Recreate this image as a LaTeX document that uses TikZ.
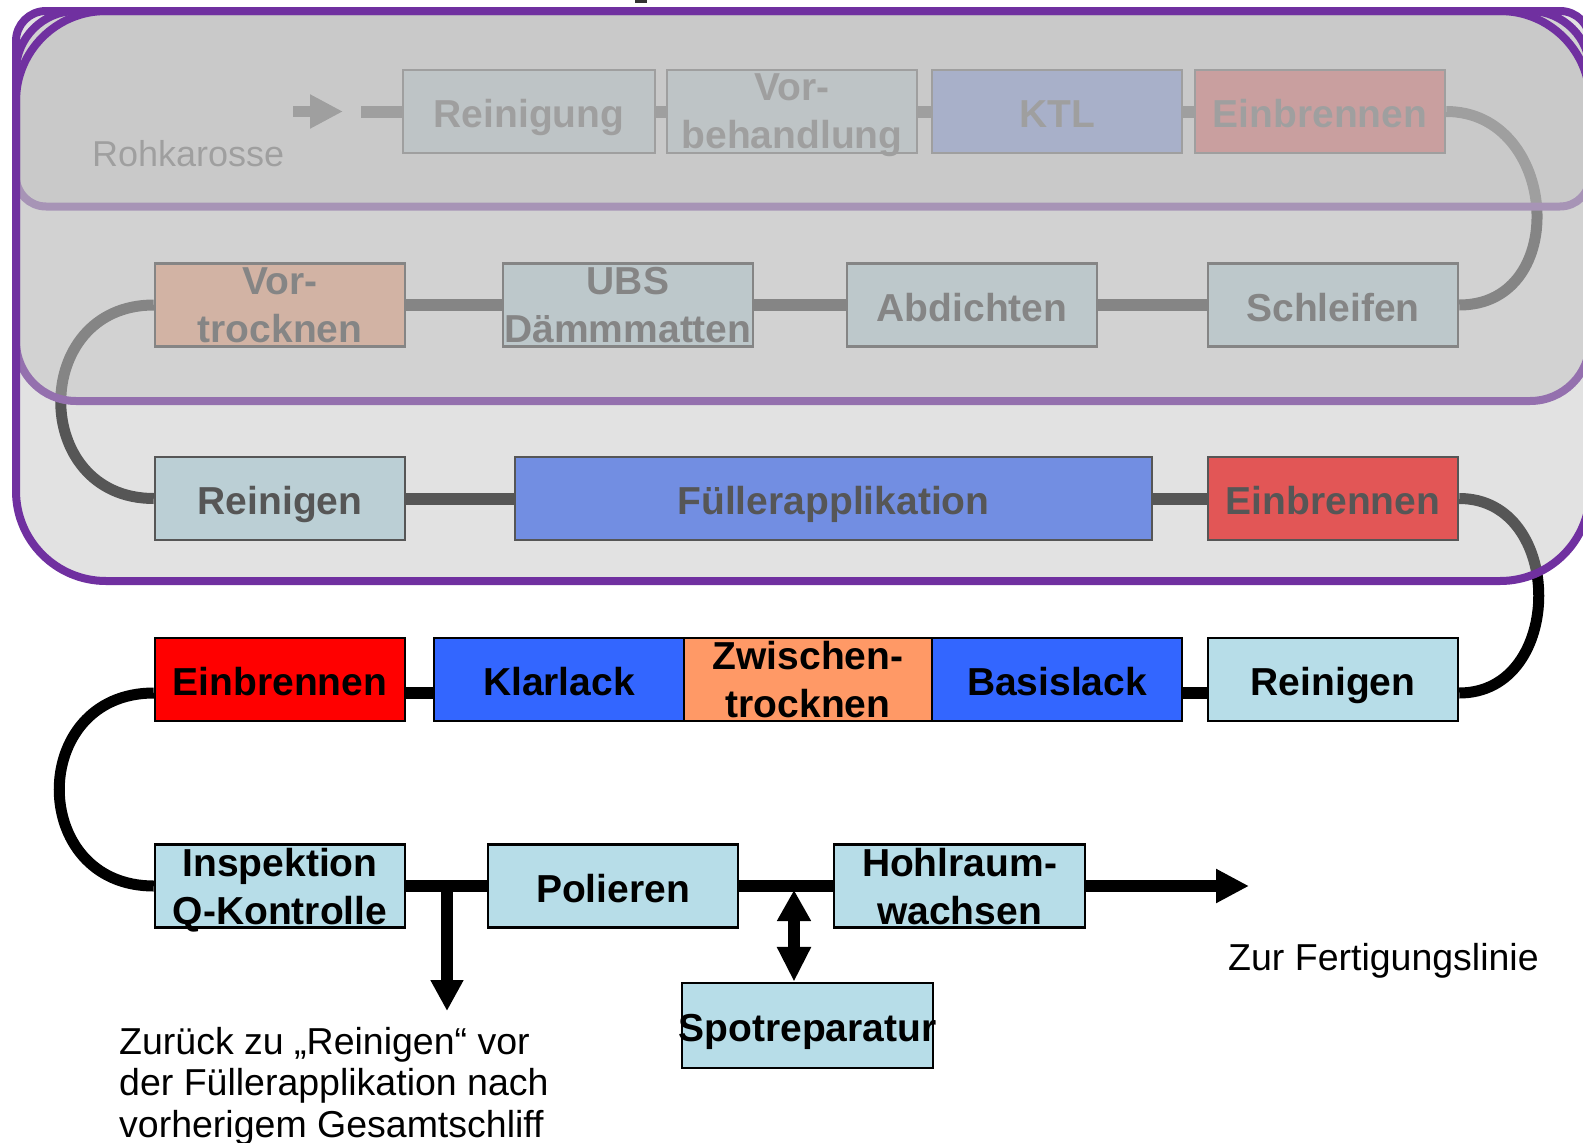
\documentclass[tikz,border=0pt]{standalone}
\usepackage{fontspec}
\setmainfont{Liberation Sans}
\usetikzlibrary{arrows.meta}
\definecolor{cyanl}{HTML}{B7DDE8}
\definecolor{blu}{HTML}{3366FF}
\definecolor{rd}{HTML}{FF0000}
\definecolor{org}{HTML}{FF9966}
\definecolor{purp}{HTML}{7030A0}
\definecolor{ovl}{HTML}{C0C0C0}
\newcommand{\bxfont}{\fontsize{39}{48}\selectfont\bfseries}
\newcommand{\txfont}{\fontsize{37.5}{41.5}\selectfont}
\newcommand{\rkfont}{\fontsize{36}{41.5}\selectfont}
\begin{document}
\begin{tikzpicture}[x=1pt,y=-1pt,
  bx/.style={draw=black,line width=2.5pt,minimum height=83pt,inner sep=0pt,font=\bxfont,align=center},
  one/.style={text height=32pt,text depth=0pt},
  two/.style={text depth=-6pt},
  con/.style={line width=12pt,black},
  cv/.style={line width=11pt,black},
  tipA/.style={-{Triangle[length=33pt,width=32pt]}},
  ovr/.style={fill=ovl,fill opacity=0.45,draw=purp,line width=8pt},
  lbl/.style={font=\txfont,inner sep=0pt}]
\fill[white] (0,0) rectangle (1583,1143);
\useasboundingbox (0,0) rectangle (1583,1143);
\clip (0,0) rectangle (1583,1143);
\fill[black!80] (635,0) rectangle (647,3);

% row 1
\node[bx,one,fill=cyanl,minimum width=252pt] (r1) at (529,111.5) {Reinigung};
\node[bx,two,fill=cyanl,minimum width=250pt,text depth=-10pt] (v1) at (792,111.5) {Vor-\\behandlung};
\node[bx,one,fill=blu,minimum width=250pt] (k1) at (1057,111.5) {KTL};
\node[bx,one,fill=rd,minimum width=250pt] (e1) at (1320,111.5) {Einbrennen};
\node[lbl,font=\rkfont,anchor=base west] (rk) at (92,166) {Rohkarosse};
\coordinate (a0) at (293,111.5);
\coordinate (a1) at (343,111.5);
\coordinate (l0) at (361,111.5);
\draw[cv,tipA] (a0) -- (a1);
\draw[con] (l0) -- (r1.west);
\draw[con] (r1) -- (v1);
\draw[con] (v1) -- (k1);
\draw[con] (k1) -- (e1);

% row 2
\node[bx,two,fill=org,minimum width=250pt] (vt) at (280,305) {Vor-\\trocknen};
\node[bx,two,fill=cyanl,minimum width=250pt] (ub) at (628,305) {UBS\\Dämmmatten};
\node[bx,one,fill=cyanl,minimum width=250pt] (ab) at (972,305) {Abdichten};
\node[bx,one,fill=cyanl,minimum width=250pt] (sc) at (1333,305) {Schleifen};
\draw[con] (vt) -- (ub);
\draw[con] (ub) -- (ab);
\draw[con] (ab) -- (sc);
\draw[cv] (e1.east) .. controls +(112,0) and +(112,0) .. (sc.east);

% row 3
\node[bx,one,fill=cyanl,minimum width=250pt] (r3) at (280,498.5) {Reinigen};
\node[bx,one,fill=blu,minimum width=637pt] (fa) at (833.5,498.5) {Füllerapplikation};
\node[bx,one,fill=rd,minimum width=250pt] (e3) at (1333,498.5) {Einbrennen};
\draw[con] (r3) -- (fa);
\draw[con] (fa) -- (e3);
\draw[cv] (vt.west) .. controls +(-124,0) and +(-124,0) .. (r3.west);

% row 4
\node[bx,one,fill=rd,minimum width=250pt] (e4) at (280,679.5) {Einbrennen};
\node[bx,one,fill=blu,minimum width=250pt] (kl) at (559,679.5) {Klarlack};
\node[bx,two,fill=org,minimum width=248pt] (zw) at (808,679.5) {Zwischen-\\trocknen};
\node[bx,one,fill=blu,minimum width=250pt] (bl) at (1057,679.5) {Basislack};
\node[bx,one,fill=cyanl,minimum width=250pt] (r4) at (1333,679.5) {Reinigen};
\draw[con] ([yshift=-13.5pt]e4.east) -- ([yshift=-13.5pt]kl.west);
\draw[con] ([yshift=-13.5pt]bl.east) -- ([yshift=-13.5pt]r4.west);
\draw[cv] (e3.east) .. controls +(106,0) and +(106,0) .. ([yshift=-13.5pt]r4.east);

% row 5
\node[bx,two,fill=cyanl,minimum width=250pt] (iq) at (280,886) {Inspektion\\Q-Kontrolle};
\node[bx,one,fill=cyanl,minimum width=250pt] (po) at (613,886) {Polieren};
\node[bx,two,fill=cyanl,minimum width=251pt] (hw) at (959.5,886) {Hohlraum-\\wachsen};
\node[bx,one,fill=cyanl,minimum width=251pt,minimum height=85pt,inner xsep=-5pt] (sp) at (807.5,1025.5) {Spotreparatur};
\draw[cv] ([yshift=-13.5pt]e4.west) .. controls +(-126,0) and +(-126,0) .. (iq.west);
\coordinate (j1) at (447,886);
\coordinate (d1) at (447,1011);
\coordinate (j2) at (794,890);
\coordinate (out) at (1249,886);
\draw[con] (iq) -- (po);
\draw[con] (po) -- (hw);
\draw[con,tipA] (hw.east) -- (out);
\draw[con,-{Triangle[length=31pt,width=31pt]}] (j1) -- (d1);
\draw[con,{Triangle[length=31pt,width=32pt]}-{Triangle[length=35pt,width=32pt]}] (j2) -- (sp.north -| j2);

\node[lbl,anchor=base west] (zf) at (1228,970) {Zur Fertigungslinie};
\node[lbl,anchor=north west,align=left] (zr) at (119,1027) {Zurück zu „Reinigen“ vor\\der Füllerapplikation nach\\vorherigem Gesamtschliff};

% overlays
\draw[ovr,rounded corners=30pt] (16,11) rectangle (1590,206.5);
\draw[ovr,rounded corners=60pt] (16,11) rectangle (1590,401);
\draw[ovr,rounded corners=90pt] (16,11) rectangle (1590,581);
\end{tikzpicture}
\end{document}
